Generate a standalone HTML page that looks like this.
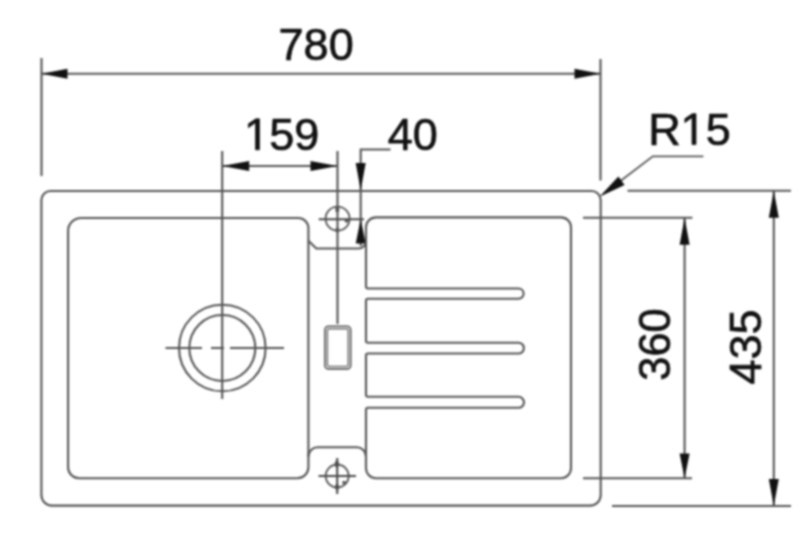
<!DOCTYPE html>
<html><head><meta charset="utf-8">
<style>
html,body{margin:0;padding:0;background:#fff;width:800px;height:535px;overflow:hidden}
svg{display:block}
text{font-family:"Liberation Sans",sans-serif;font-size:45px;fill:#111;stroke:#111;stroke-width:0.7}
.l{fill:none;stroke:#555;stroke-width:2.1}
.d{stroke:#4a4a4a}
.g{fill:#111;stroke:#111;stroke-width:32}
.a{fill:#111;stroke:none}
</style></head><body>
<svg width="800" height="535" viewBox="0 0 800 535">
<defs><filter id="b" filterUnits="userSpaceOnUse" x="0" y="0" width="800" height="535" color-interpolation-filters="sRGB"><feConvolveMatrix order="5" kernelMatrix="1 4 6 4 1 4 16 24 16 4 6 24 36 24 6 4 16 24 16 4 1 4 6 4 1" divisor="256" preserveAlpha="false" edgeMode="none"/></filter></defs>
<g filter="url(#b)">
<rect width="800" height="535" fill="#fff"/>
<!-- 780 dimension -->
<path class="l" d="M41.5 58V176 M600.5 59V180.5 M41.5 73.8H600.5"/>
<path class="a" d="M41.5 73.8 L67.5 68.8 L67.5 78.8Z M600.5 73.8 L574.5 68.8 L574.5 78.8Z"/>
<text x="278.6" y="60.4">780</text>

<!-- 159 dimension -->
<path class="l" d="M222.2 151V399 M337.5 151V324 M222.2 166H337.5"/>
<path class="a" d="M222.2 166 L249.2 161 L249.2 171Z M337.5 166 L310.5 161 L310.5 171Z"/>
<path class="g" transform="translate(244.2 149.8) scale(0.0219727 -0.0219727)" d="M515 0V1237L190 1000V1180L530 1409H696V0Z"/><text x="269.23" y="149.8">59</text>

<!-- 40 dimension -->
<path class="l" d="M390.5 149.5H360.7V246"/>
<path class="a" d="M360.7 190.5 L355.7 163 L365.7 163Z M360.7 219 L355.7 243.5 L365.7 243.5Z"/>
<text x="387.8" y="150">40</text>

<!-- R15 -->
<path class="l" d="M703.4 156.3H652.8L606 192" style="stroke-width:1.8"/>
<path class="a" d="M599.5 196.8 L618.4 176.6 L624.6 185Z"/>
<text x="648.2" y="144.6">R</text><path class="g" transform="translate(680.7 144.6) scale(0.0219727 -0.0219727)" d="M515 0V1237L190 1000V1180L530 1409H696V0Z"/><text x="705.73" y="144.6">5</text>

<!-- outer sink -->
<path class="l" d="M50.4 191H591.7A9 9 0 0 1 600.7 200V495.1A10.5 10.5 0 0 1 590.2 505.6H51.9A10.5 10.5 0 0 1 41.4 495.1V200A9 9 0 0 1 50.4 191Z"/>

<!-- left bowl -->
<path class="l" d="M81.1 218H298.3A10 10 0 0 1 308.4 228V467.2A11 11 0 0 1 297.4 478.2H79.1A11 11 0 0 1 68.1 467.2V231A13 13 0 0 1 81.1 218Z"/>

<!-- channel ledges -->
<path class="l" d="M308.4 240.8 L316.3 248.5 H358.5 A7.5 7.5 0 0 0 366 241"/>
<path class="l" d="M308.4 456.5 A9.2 9.2 0 0 1 317.6 447.3 H356.8 A9.2 9.2 0 0 1 366 456.5"/>

<!-- right bowl with ribs -->
<path class="l" d="M366 227.4 A10 10 0 0 1 376 217.4 H561 A10 10 0 0 1 571 227.4 V468.2 A10 10 0 0 1 561 478.2 H376 A10 10 0 0 1 366 468.2 V410 Q366 407.8 368 407.8 H518.5 A5.5 5.5 0 0 0 518.5 396.8 H368 Q366 396.8 366 394.8 V355.5 Q366 353.5 368 353.5 H518.5 A5.35 5.35 0 0 0 518.5 342.8 H368 Q366 342.8 366 340.8 V300.7 Q366 298.7 368 298.7 H518.5 A5.1 5.1 0 0 0 518.5 288.5 H368 Q366 288.5 366 286.5 Z"/>

<!-- drain -->
<circle class="l" cx="222.3" cy="348" r="43.3"/>
<circle class="l" cx="222.3" cy="348" r="33"/>
<path class="l" d="M165.5 348H202 M211 348H224 M230 348H284"/>

<!-- tap holes -->
<circle class="l" cx="337.6" cy="218.7" r="12" style="stroke-width:1.8"/><g fill="#555"><ellipse cx="337.3" cy="209.5" rx="2" ry="3"/><ellipse cx="337.3" cy="230" rx="2" ry="2.6"/><ellipse cx="346.5" cy="220.8" rx="1.8" ry="2"/></g>
<path class="l d" d="M318.7 219.2H364"/>
<circle class="l" cx="337.2" cy="476" r="11.5" style="stroke-width:1.8"/><g fill="#555"><ellipse cx="336.8" cy="464" rx="2" ry="3.5"/><ellipse cx="337" cy="487" rx="2" ry="3"/><ellipse cx="344" cy="482.5" rx="1.8" ry="1.8"/></g>
<path class="l d" d="M318.5 476H356 M337.2 458V494"/>

<!-- overflow -->
<rect class="l" x="324.9" y="326.2" width="25.8" height="42.7" rx="3.5" style="stroke-width:1.6"/><rect class="l" x="327.4" y="328.7" width="20.8" height="37.7" rx="1.5" style="stroke-width:1.4;stroke:#6a6a6a"/>

<!-- 360 dimension -->
<path class="l" d="M583 217.7H692.4 M583 478.2H692 M684.6 217.7V478.2"/>
<path class="a" d="M684.6 217.7 L679.6 244.7 L689.6 244.7Z M684.6 478.2 L679.6 453.5 L689.6 453.5Z"/>
<text transform="translate(669.8 380.7) rotate(-90) scale(0.965 1)">360</text>

<!-- 435 dimension -->
<path class="l" d="M627.5 190.7H791 M612 506H791 M773.8 190.7V506"/>
<path class="a" d="M773.8 190.7 L768.8 217.7 L778.8 217.7Z M773.8 506 L768.8 479 L778.8 479Z"/>
<text transform="translate(761.4 384.5) rotate(-90)">435</text>
</g>
</svg>
</body></html>
